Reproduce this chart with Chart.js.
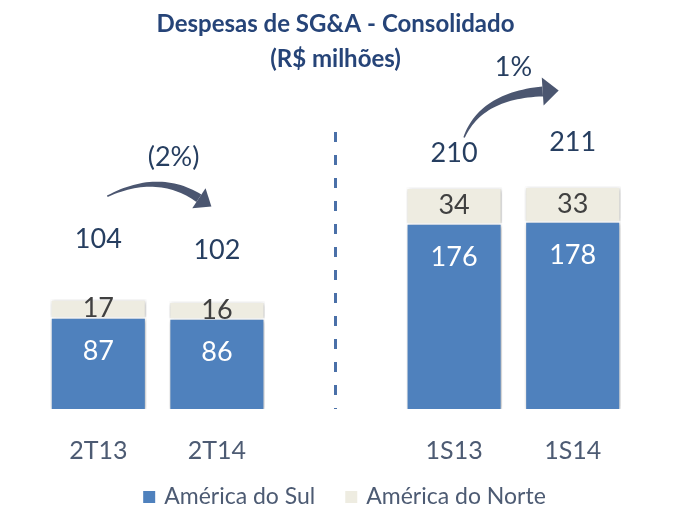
<!DOCTYPE html>
<html>
<head>
<meta charset="utf-8">
<script src="https://cdn.jsdelivr.net/npm/chart.js@4/dist/chart.umd.min.js"></script>
<style>
  body { margin: 0; background: #fff; }
</style>
</head>
<body>
<canvas id="sgaChart" width="689" height="526"></canvas>
<script>
const categories = ['2T13', '2T14', '', '1S13', '1S14'];
const americaSul = [87, 86, null, 176, 178];
const americaNorte = [17, 16, null, 34, 33];
const totals = [104, 102, null, 210, 211];
const variations = ['(2%)', '1%'];

const FONT = "Lato, 'Noto Sans', sans-serif";
const LABEL_GREY = '#4D5B73';
const NAVY = '#263E60';

// gap between the top of a bar and its total label, per bar
const totalOffsets = [60, 51, 0, 34, 44];

function drawArrow(ctx, p0, c, p1, w0, w1, headLen, headHalf) {
    const left = [], right = [];
    const steps = 30;
    for (let i = 0; i <= steps; i++) {
        const t = i / steps;
        const x = (1 - t) * (1 - t) * p0.x + 2 * (1 - t) * t * c.x + t * t * p1.x;
        const y = (1 - t) * (1 - t) * p0.y + 2 * (1 - t) * t * c.y + t * t * p1.y;
        const dx = 2 * (1 - t) * (c.x - p0.x) + 2 * t * (p1.x - c.x);
        const dy = 2 * (1 - t) * (c.y - p0.y) + 2 * t * (p1.y - c.y);
        const len = Math.hypot(dx, dy);
        const nx = -dy / len, ny = dx / len;
        const w = (w0 + (w1 - w0) * t) / 2;
        left.push([x + nx * w, y + ny * w]);
        right.push([x - nx * w, y - ny * w]);
    }
    ctx.beginPath();
    ctx.moveTo(left[0][0], left[0][1]);
    left.forEach(p => ctx.lineTo(p[0], p[1]));
    right.reverse().forEach(p => ctx.lineTo(p[0], p[1]));
    ctx.closePath();
    ctx.fill();

    const dx = p1.x - c.x, dy = p1.y - c.y;
    const len = Math.hypot(dx, dy);
    const ux = dx / len, uy = dy / len;
    ctx.beginPath();
    ctx.moveTo(p1.x + ux * headLen, p1.y + uy * headLen);
    ctx.lineTo(p1.x - uy * headHalf, p1.y + ux * headHalf);
    ctx.lineTo(p1.x + uy * headHalf, p1.y - ux * headHalf);
    ctx.closePath();
    ctx.fill();
}

const barShadow = {
    id: 'barShadow',
    beforeDatasetsDraw(chart) {
        const ctx = chart.ctx;
        ctx.save();
        ctx.shadowColor = 'rgba(0, 0, 0, 0.28)';
        ctx.shadowBlur = 4;
        ctx.shadowOffsetX = 1;
        ctx.shadowOffsetY = 1;
    },
    afterDatasetsDraw(chart) {
        chart.ctx.restore();
    }
};

const extras = {
    id: 'extras',
    afterDatasetsDraw(chart) {
        const ctx = chart.ctx;
        const area = chart.chartArea;
        const sul = chart.getDatasetMeta(0).data;
        const norte = chart.getDatasetMeta(1).data;
        const xScale = chart.scales.x;

        // dashed separator
        ctx.save();
        ctx.strokeStyle = '#4A70A8';
        ctx.lineWidth = 3;
        ctx.setLineDash([10, 13]);
        const sepX = xScale.getPixelForValue(2);
        ctx.beginPath();
        ctx.moveTo(sepX, 132);
        ctx.lineTo(sepX, area.bottom);
        ctx.stroke();
        ctx.restore();

        ctx.save();
        ctx.textAlign = 'center';
        ctx.textBaseline = 'middle';
        ctx.font = '27px ' + FONT;

        const totalY = [];
        categories.forEach((cat, i) => {
            if (americaSul[i] == null) { totalY.push(null); return; }
            const s = sul[i], n = norte[i];
            ctx.fillStyle = '#ffffff';
            ctx.fillText(americaSul[i], s.x, s.y + 34);
            ctx.fillStyle = '#404040';
            ctx.fillText(americaNorte[i], n.x, (n.y + n.base) / 2);
            const ty = n.y - totalOffsets[i];
            totalY.push(ty);
            ctx.fillStyle = NAVY;
            ctx.fillText(totals[i], n.x, ty);
        });

        // variation arrows
        ctx.fillStyle = '#4B5670';
        const b0 = sul[0].x, b1 = sul[1].x, b3 = sul[3].x, b4 = sul[4].x;
        drawArrow(ctx,
            { x: b0 + 9, y: totalY[0] - 43 },
            { x: b0 + 60, y: totalY[0] - 68 },
            { x: b1 - 18, y: totalY[0] - 41 },
            1.5, 9, 15, 12);
        drawArrow(ctx,
            { x: b3 + 10, y: totalY[3] - 16 },
            { x: b3 + 27, y: totalY[3] - 58 },
            { x: b4 - 30, y: totalY[3] - 62 },
            1.5, 10, 16, 14);

        ctx.fillStyle = NAVY;
        ctx.font = '27px ' + FONT;
        ctx.fillText(variations[0], (b0 + b1) / 2 + 16, totalY[0] - 82);
        ctx.fillText(variations[1], (b3 + b4) / 2, totalY[3] - 86);
        ctx.restore();
    }
};

// legend drawn by hand so spacing matches the slide
const bottomLegend = {
    id: 'bottomLegend',
    afterDraw(chart) {
        const ctx = chart.ctx;
        const sets = chart.data.datasets;
        const box = 12, gapText = 9, gapItem = 30;
        ctx.save();
        ctx.font = '23px ' + FONT;
        ctx.textBaseline = 'middle';
        const widths = sets.map(ds => ctx.measureText(ds.label).width);
        let total = 0;
        widths.forEach((w, i) => { total += box + gapText + w + (i < widths.length - 1 ? gapItem : 0); });
        let x = chart.width / 2 - total / 2;
        const y = 497;
        sets.forEach((ds, i) => {
            ctx.fillStyle = ds.backgroundColor;
            ctx.fillRect(x, y - box / 2, box, box);
            x += box + gapText;
            ctx.fillStyle = LABEL_GREY;
            ctx.fillText(ds.label, x, y);
            x += widths[i] + gapItem;
        });
        ctx.restore();
    }
};

const ctx = document.getElementById('sgaChart');
new Chart(ctx, {
    type: 'bar',
    data: {
        labels: categories,
        datasets: [
            {
                label: 'América do Sul',
                data: americaSul,
                backgroundColor: '#4F81BD',
                borderColor: '#ffffff',
                borderWidth: 1.5,
                barPercentage: 0.81,
                categoryPercentage: 1
            },
            {
                label: 'América do Norte',
                data: americaNorte,
                backgroundColor: '#EEECE1',
                borderColor: '#ffffff',
                borderWidth: 1.5,
                barPercentage: 0.81,
                categoryPercentage: 1
            }
        ]
    },
    options: {
        responsive: false,
        animation: false,
        layout: {
            padding: { left: 39, right: 57, top: 0, bottom: 33 }
        },
        plugins: {
            title: {
                display: true,
                text: ['Despesas de SG&A - Consolidado', '(R$ milhões)'],
                color: '#264478',
                font: { family: FONT, size: 24, weight: 'bold', lineHeight: 1.46 },
                padding: { top: 7, bottom: 7 }
            },
            legend: { display: false },
            tooltip: { enabled: false }
        },
        scales: {
            x: {
                stacked: true,
                grid: { display: false, drawTicks: false },
                border: { display: false },
                ticks: {
                    color: LABEL_GREY,
                    font: { family: FONT, size: 25 },
                    padding: 27
                }
            },
            y: {
                stacked: true,
                display: false,
                min: 0,
                max: 308
            }
        }
    },
    plugins: [barShadow, extras, bottomLegend]
});
</script>
</body>
</html>
